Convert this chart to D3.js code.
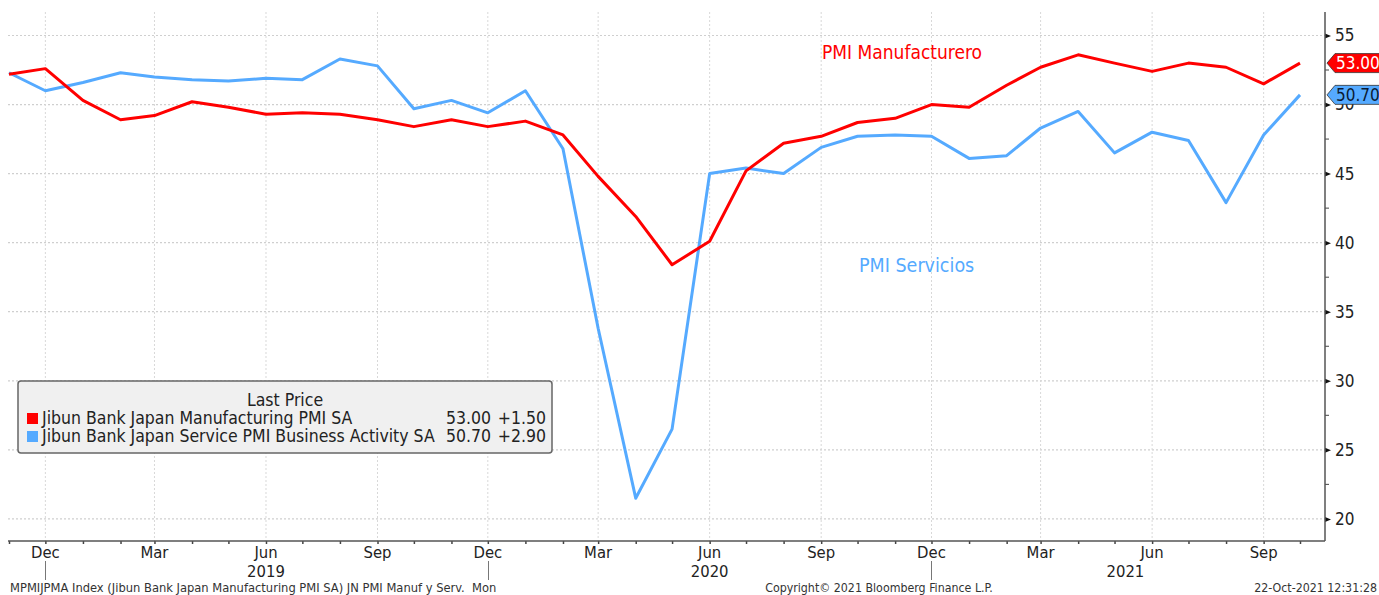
<!DOCTYPE html>
<html>
<head>
<meta charset="utf-8">
<script src="https://cdn.jsdelivr.net/npm/d3@7"></script>
<style>
  body { margin: 0; background: #ffffff; }
  text { font-family: "DejaVu Sans Condensed", "DejaVu Sans", sans-serif; font-stretch: condensed; }
</style>
</head>
<body>
<div class="svg-wrap"></div>
<script>
const width = 1379;
const height = 595;

// monthly data, Nov 2018 - Oct 2021
const months = ["2018-11","2018-12","2019-01","2019-02","2019-03","2019-04","2019-05","2019-06","2019-07","2019-08","2019-09","2019-10",
  "2019-11","2019-12","2020-01","2020-02","2020-03","2020-04","2020-05","2020-06","2020-07","2020-08","2020-09","2020-10",
  "2020-11","2020-12","2021-01","2021-02","2021-03","2021-04","2021-05","2021-06","2021-07","2021-08","2021-09","2021-10"];
const manufacturing = [52.2,52.6,50.3,48.9,49.2,50.2,49.8,49.3,49.4,49.3,48.9,48.4,
  48.9,48.4,48.8,47.8,44.8,41.9,38.4,40.1,45.2,47.2,47.7,48.7,
  49.0,50.0,49.8,51.4,52.7,53.6,53.0,52.4,53.0,52.7,51.5,53.0];
const services = [52.3,51.0,51.6,52.3,52.0,51.8,51.7,51.9,51.8,53.3,52.8,49.7,
  50.3,49.4,51.0,46.8,33.8,21.5,26.5,45.0,45.4,45.0,46.9,47.7,
  47.8,47.7,46.1,46.3,48.3,49.5,46.5,48.0,47.4,42.9,47.8,50.7];

const yTicks = [20,25,30,35,40,45,50,55];
const yMinorTicks = [22.5,27.5,32.5,37.5,42.5,47.5,52.5];
const quarterMonths = ["2018-12","2019-03","2019-06","2019-09","2019-12","2020-03","2020-06","2020-09","2020-12","2021-03","2021-06","2021-09"];
const yearLabels = ["2019","2020","2021"];
const yearLabelDates = ["2019-06-01","2020-06-01","2021-05-10"];
const yearSeparators = ["2018-12","2019-12","2020-12"];

const seriesNames = ["Jibun Bank Japan Manufacturing PMI SA", "Jibun Bank Japan Service PMI Business Activity SA"];
const lastValues = ["53.00", "50.70"];
const lastChanges = ["+1.50", "+2.90"];

const red = "#ff0000";
const blue = "#55aaff";

const plotLeft = 8, plotRight = 1325, plotTop = 12, plotBottom = 541;

const parseMonth = d3.timeParse("%Y-%m");
const parseDay = d3.timeParse("%Y-%m-%d");
const dates = months.map(parseMonth);

let svg = d3.select(".svg-wrap")
  .append("svg")
  .attr("width", width)
  .attr("height", height)
  .style("background-color", "white");

const x = d3.scaleTime()
  .domain([parseMonth("2018-11"), parseMonth("2021-10")])
  .range([9, 1300]);
const y = d3.scaleLinear()
  .domain([18.4, 56.7])
  .range([plotBottom, plotTop]);

// grid
svg.append("g").selectAll("line")
  .data(yTicks)
  .enter().append("line")
  .attr("x1", plotLeft).attr("x2", plotRight)
  .attr("y1", d => y(d)).attr("y2", d => y(d))
  .attr("stroke", "#cfcfcf").attr("stroke-width", 1.2)
  .attr("stroke-dasharray", "2,2");

svg.append("g").selectAll("line")
  .data(quarterMonths.map(parseMonth))
  .enter().append("line")
  .attr("x1", d => x(d)).attr("x2", d => x(d))
  .attr("y1", plotTop).attr("y2", plotBottom)
  .attr("stroke", "#d8d8d8").attr("stroke-width", 1)
  .attr("stroke-dasharray", "2,2");

// x axis
let xAxis = d3.axisBottom(x)
  .tickValues(d3.timeMonth.range(parseMonth("2018-11"), parseMonth("2021-11")))
  .tickSize(3)
  .tickFormat("");
let gx = svg.append("g")
  .attr("transform", `translate(0,${plotBottom})`)
  .call(xAxis);
gx.select(".domain").remove();
gx.selectAll(".tick line").attr("stroke", "#444").attr("stroke-width", 1.5);
svg.append("line")
  .attr("x1", plotLeft).attr("x2", plotRight)
  .attr("y1", plotBottom).attr("y2", plotBottom)
  .attr("stroke", "#555").attr("stroke-width", 1.5);

svg.append("g").selectAll("text")
  .data(quarterMonths.map(parseMonth))
  .enter().append("text")
  .attr("x", d => x(d))
  .attr("y", 558)
  .attr("text-anchor", "middle")
  .attr("font-size", 16.5)
  .attr("fill", "#222")
  .text(d3.timeFormat("%b"));

svg.append("g").selectAll("text")
  .data(yearLabels)
  .enter().append("text")
  .attr("x", (d, i) => x(parseDay(yearLabelDates[i])))
  .attr("y", 577)
  .attr("text-anchor", "middle")
  .attr("font-size", 16.5)
  .attr("fill", "#222")
  .text(d => d);

svg.append("g").selectAll("line")
  .data(yearSeparators.map(parseMonth))
  .enter().append("line")
  .attr("x1", d => Math.round(x(d)) + 0.5).attr("x2", d => Math.round(x(d)) + 0.5)
  .attr("y1", 561).attr("y2", 580)
  .attr("stroke", "#777").attr("stroke-width", 1);

// y axis on the right
let yAxis = d3.axisRight(y).tickValues(yTicks).tickSize(0).tickPadding(10);
let gy = svg.append("g")
  .attr("transform", `translate(${plotRight},0)`)
  .call(yAxis);
gy.select(".domain").remove();
gy.selectAll(".tick text")
  .attr("font-size", 17)
  .attr("fill", "#222")
  .style("font-family", "\"DejaVu Sans Condensed\", \"DejaVu Sans\", sans-serif");
gy.selectAll(".tick").append("path")
  .attr("d", "M0,-2.5L6,0L0,2.5Z")
  .attr("fill", "#111");
svg.append("g").selectAll("line")
  .data(yMinorTicks)
  .enter().append("line")
  .attr("x1", plotRight).attr("x2", plotRight + 4)
  .attr("y1", d => y(d)).attr("y2", d => y(d))
  .attr("stroke", "#444").attr("stroke-width", 1);
svg.append("line")
  .attr("x1", plotRight).attr("x2", plotRight)
  .attr("y1", plotTop).attr("y2", plotBottom)
  .attr("stroke", "#555").attr("stroke-width", 1.5);

// lines
let line = d3.line()
  .x((d, i) => x(dates[i]))
  .y(d => y(d));

svg.append("path")
  .datum(services)
  .attr("d", line)
  .attr("fill", "none")
  .attr("stroke", blue)
  .attr("stroke-width", 3)
  .attr("stroke-linejoin", "round");

svg.append("path")
  .datum(manufacturing)
  .attr("d", line)
  .attr("fill", "none")
  .attr("stroke", red)
  .attr("stroke-width", 3)
  .attr("stroke-linejoin", "round");

// annotations
svg.append("text")
  .attr("x", 822).attr("y", 59)
  .attr("font-size", 19)
  .attr("fill", red)
  .text("PMI Manufacturero");
svg.append("text")
  .attr("x", 859).attr("y", 272)
  .attr("font-size", 19.5)
  .attr("fill", blue)
  .text("PMI Servicios");

// last value tags
const tagData = [
  {v: manufacturing[manufacturing.length - 1], label: lastValues[0], fill: red, text: "#ffffff"},
  {v: services[services.length - 1], label: lastValues[1], fill: blue, text: "#0a1a33"}
];
let tags = svg.append("g").selectAll("g")
  .data(tagData)
  .enter().append("g")
  .attr("transform", d => `translate(${plotRight + 2},${y(d.v)})`);
tags.append("path")
  .attr("d", "M0,0L8,-9.5L60,-9.5L60,9.5L8,9.5Z")
  .attr("fill", d => d.fill)
  .attr("stroke", "#333")
  .attr("stroke-width", 0.8);
tags.append("text")
  .attr("x", 9)
  .attr("y", 6)
  .attr("font-size", 17)
  .attr("fill", d => d.text)
  .text(d => d.label);

// legend
let legend = svg.append("g");
legend.append("rect")
  .attr("x", 18).attr("y", 381)
  .attr("width", 534).attr("height", 72)
  .attr("rx", 3)
  .attr("fill", "#f0f0f0")
  .attr("stroke", "#666")
  .attr("stroke-width", 1.5);
legend.append("text")
  .attr("x", 285).attr("y", 406)
  .attr("text-anchor", "middle")
  .attr("font-size", 17.5)
  .attr("fill", "#222")
  .text("Last Price");
const legendColors = [red, blue];
let rows = legend.selectAll("g.row")
  .data(seriesNames)
  .enter().append("g")
  .attr("class", "row")
  .attr("transform", (d, i) => `translate(0,${424 + i * 18})`);
rows.append("rect")
  .attr("x", 27).attr("y", -11)
  .attr("width", 11).attr("height", 11)
  .attr("fill", (d, i) => legendColors[i]);
rows.append("text")
  .attr("x", 42)
  .attr("font-size", 17.5)
  .attr("fill", "#222")
  .text(d => d);
rows.append("text")
  .attr("x", 491)
  .attr("text-anchor", "end")
  .attr("font-size", 17.5)
  .attr("fill", "#222")
  .text((d, i) => lastValues[i]);
rows.append("text")
  .attr("x", 546)
  .attr("text-anchor", "end")
  .attr("font-size", 17.5)
  .attr("fill", "#222")
  .text((d, i) => lastChanges[i]);

// footer
svg.append("text")
  .attr("x", 10).attr("y", 592)
  .attr("font-size", 12.8)
  .attr("fill", "#333")
  .style("white-space", "pre")
  .text("MPMIJPMA Index (Jibun Bank Japan Manufacturing PMI SA) JN PMI Manuf y Serv.  Mon");
svg.append("text")
  .attr("x", 879).attr("y", 592)
  .attr("text-anchor", "middle")
  .attr("font-size", 12.3)
  .attr("fill", "#333")
  .text("Copyright\u00a9 2021 Bloomberg Finance L.P.");
svg.append("text")
  .attr("x", 1377).attr("y", 592)
  .attr("text-anchor", "end")
  .attr("font-size", 12.3)
  .attr("fill", "#333")
  .text("22-Oct-2021 12:31:28");
</script>
</body>
</html>
